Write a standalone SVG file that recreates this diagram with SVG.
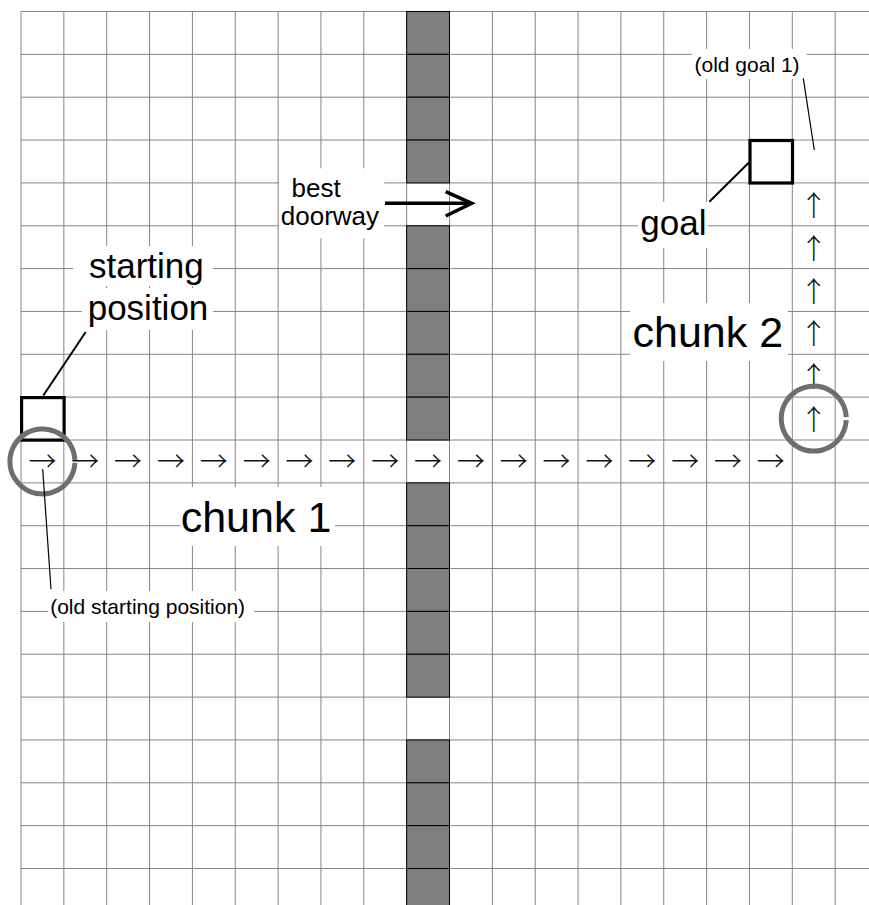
<svg xmlns="http://www.w3.org/2000/svg" width="869" height="905" viewBox="0 0 869 905">
<style>
.grid{stroke:#858585;stroke-width:1;fill:none}
.wall{fill:#7f7f7f;stroke:#000;stroke-width:1}
.bg{fill:#fff;stroke:none}
.t{font-family:"Liberation Sans",Arial,sans-serif;fill:#000}
.big{font-size:43px}
.mid{font-size:35px}
.sm{font-size:26px}
.xs{font-size:21px}
.arr{font-family:"Noto Sans CJK SC","Noto Sans CJK JP",sans-serif;font-size:28px;font-weight:300;fill:#111;text-anchor:middle;dominant-baseline:central}
.sq{fill:none;stroke:#000;stroke-width:3.2}
.ring{fill:none;stroke:#6e6e6e;stroke-width:5}
.lead{stroke:#000;fill:none}
</style>
<rect width="869" height="905" fill="#fff"/>
<g id="grid">
<path class="grid" d="M21 11.5H869M21 54.35H869M21 97.2H869M21 140.05H869M21 182.9H869M21 225.75H869M21 268.6H869M21 311.45H869M21 354.3H869M21 397.15H869M21 440H869M21 482.85H869M21 525.7H869M21 568.55H869M21 611.4H869M21 654.25H869M21 697.1H869M21 739.95H869M21 782.8H869M21 825.65H869M21 868.5H869"/>
<path class="grid" d="M21 11.5V905M63.85 11.5V905M106.7 11.5V905M149.55 11.5V905M192.4 11.5V905M235.25 11.5V905M278.1 11.5V905M320.95 11.5V905M363.8 11.5V905M406.65 11.5V905M449.5 11.5V905M492.35 11.5V905M535.2 11.5V905M578.05 11.5V905M620.9 11.5V905M663.75 11.5V905M706.6 11.5V905M749.45 11.5V905M792.3 11.5V905M835.15 11.5V905"/>
</g>
<g id="wall">
<rect class="wall" x="406.65" y="11.5" width="42.85" height="42.85"/>
<rect class="wall" x="406.65" y="54.35" width="42.85" height="42.85"/>
<rect class="wall" x="406.65" y="97.2" width="42.85" height="42.85"/>
<rect class="wall" x="406.65" y="140.05" width="42.85" height="42.85"/>
<rect class="wall" x="406.65" y="225.75" width="42.85" height="42.85"/>
<rect class="wall" x="406.65" y="268.6" width="42.85" height="42.85"/>
<rect class="wall" x="406.65" y="311.45" width="42.85" height="42.85"/>
<rect class="wall" x="406.65" y="354.3" width="42.85" height="42.85"/>
<rect class="wall" x="406.65" y="397.15" width="42.85" height="42.85"/>
<rect class="wall" x="406.65" y="482.85" width="42.85" height="42.85"/>
<rect class="wall" x="406.65" y="525.7" width="42.85" height="42.85"/>
<rect class="wall" x="406.65" y="568.55" width="42.85" height="42.85"/>
<rect class="wall" x="406.65" y="611.4" width="42.85" height="42.85"/>
<rect class="wall" x="406.65" y="654.25" width="42.85" height="42.85"/>
<rect class="wall" x="406.65" y="739.95" width="42.85" height="42.85"/>
<rect class="wall" x="406.65" y="782.8" width="42.85" height="42.85"/>
<rect class="wall" x="406.65" y="825.65" width="42.85" height="42.85"/>
<rect class="wall" x="406.65" y="868.5" width="42.85" height="42.85"/>
</g>
<g id="path-arrows">
<text class="arr" x="42.43" y="459.5">→</text>
<text class="arr" x="85.28" y="459.5">→</text>
<text class="arr" x="128.13" y="459.5">→</text>
<text class="arr" x="170.98" y="459.5">→</text>
<text class="arr" x="213.83" y="459.5">→</text>
<text class="arr" x="256.68" y="459.5">→</text>
<text class="arr" x="299.53" y="459.5">→</text>
<text class="arr" x="342.38" y="459.5">→</text>
<text class="arr" x="385.23" y="459.5">→</text>
<text class="arr" x="428.08" y="459.5">→</text>
<text class="arr" x="470.93" y="459.5">→</text>
<text class="arr" x="513.78" y="459.5">→</text>
<text class="arr" x="556.63" y="459.5">→</text>
<text class="arr" x="599.48" y="459.5">→</text>
<text class="arr" x="642.33" y="459.5">→</text>
<text class="arr" x="685.18" y="459.5">→</text>
<text class="arr" x="728.03" y="459.5">→</text>
<text class="arr" x="770.88" y="459.5">→</text>
<text class="arr" x="813.73" y="204">↑</text>
<text class="arr" x="813.73" y="246.5">↑</text>
<text class="arr" x="813.73" y="289.5">↑</text>
<text class="arr" x="813.73" y="332">↑</text>
<text class="arr" x="813.73" y="375">↑</text>
<text class="arr" x="813.73" y="418">↑</text>
</g>
<g id="start-square"><rect class="sq" x="21.6" y="397.6" width="42.5" height="42.5"/></g>
<g id="goal-square"><rect class="sq" x="750" y="140.5" width="42.5" height="42.5"/></g>
<g id="old-start-ring"><path class="ring" d="M74.87 462.9A32.5 32.5 0 1 1 74.87 459.9"/></g>
<g id="old-goal-ring"><path class="ring" d="M846.2 420.1A32.5 32.5 0 1 1 846.2 417.1"/></g>
<g id="label-best-doorway">
<rect class="bg" x="279" y="168.3" width="105.3" height="70"/>
<text class="t sm" x="291.5" y="196.7">best</text>
<text class="t sm" x="280.8" y="225">doorway</text>
</g>
<g id="label-starting-position">
<rect class="bg" x="73" y="246" width="140.3" height="40"/>
<rect class="bg" x="81.7" y="288" width="131.6" height="42"/>
<text class="t mid" x="89" y="278.3">starting</text>
<text class="t mid" x="87.7" y="320">position</text>
</g>
<g id="label-goal">
<rect class="bg" x="638" y="202" width="70" height="46"/>
<text class="t mid" x="640.3" y="235">goal</text>
</g>
<g id="label-old-goal">
<rect class="bg" x="692" y="49" width="114.7" height="30"/>
<text class="t xs" x="694.5" y="72.3">(old goal 1)</text>
</g>
<g id="label-old-start">
<rect class="bg" x="48" y="591" width="206" height="31"/>
<text class="t xs" x="50.2" y="614">(old starting position)</text>
</g>
<g id="label-chunk1">
<rect class="bg" x="180" y="487" width="155" height="59"/>
<text class="t big" x="180.7" y="531.7">chunk 1</text>
</g>
<g id="label-chunk2">
<rect class="bg" x="630" y="303" width="157.7" height="58"/>
<text class="t big" x="632.5" y="347.3">chunk 2</text>
</g>
<g id="connectors">
<line class="lead" x1="85.7" y1="332" x2="43.3" y2="395.5" stroke-width="2"/>
<line class="lead" x1="749" y1="162.5" x2="709.3" y2="201.7" stroke-width="2"/>
<line class="lead" x1="803.3" y1="78.3" x2="814.3" y2="150" stroke-width="1.2"/>
<line class="lead" x1="42.7" y1="469.3" x2="51" y2="589.3" stroke-width="1.2"/>
<line class="lead" x1="385" y1="203.3" x2="469" y2="203.3" stroke-width="3.5"/>
<polyline class="lead" points="445.7,191.7 471.7,203.3 445.7,216" stroke-width="3.5"/>
</g>
</svg>
